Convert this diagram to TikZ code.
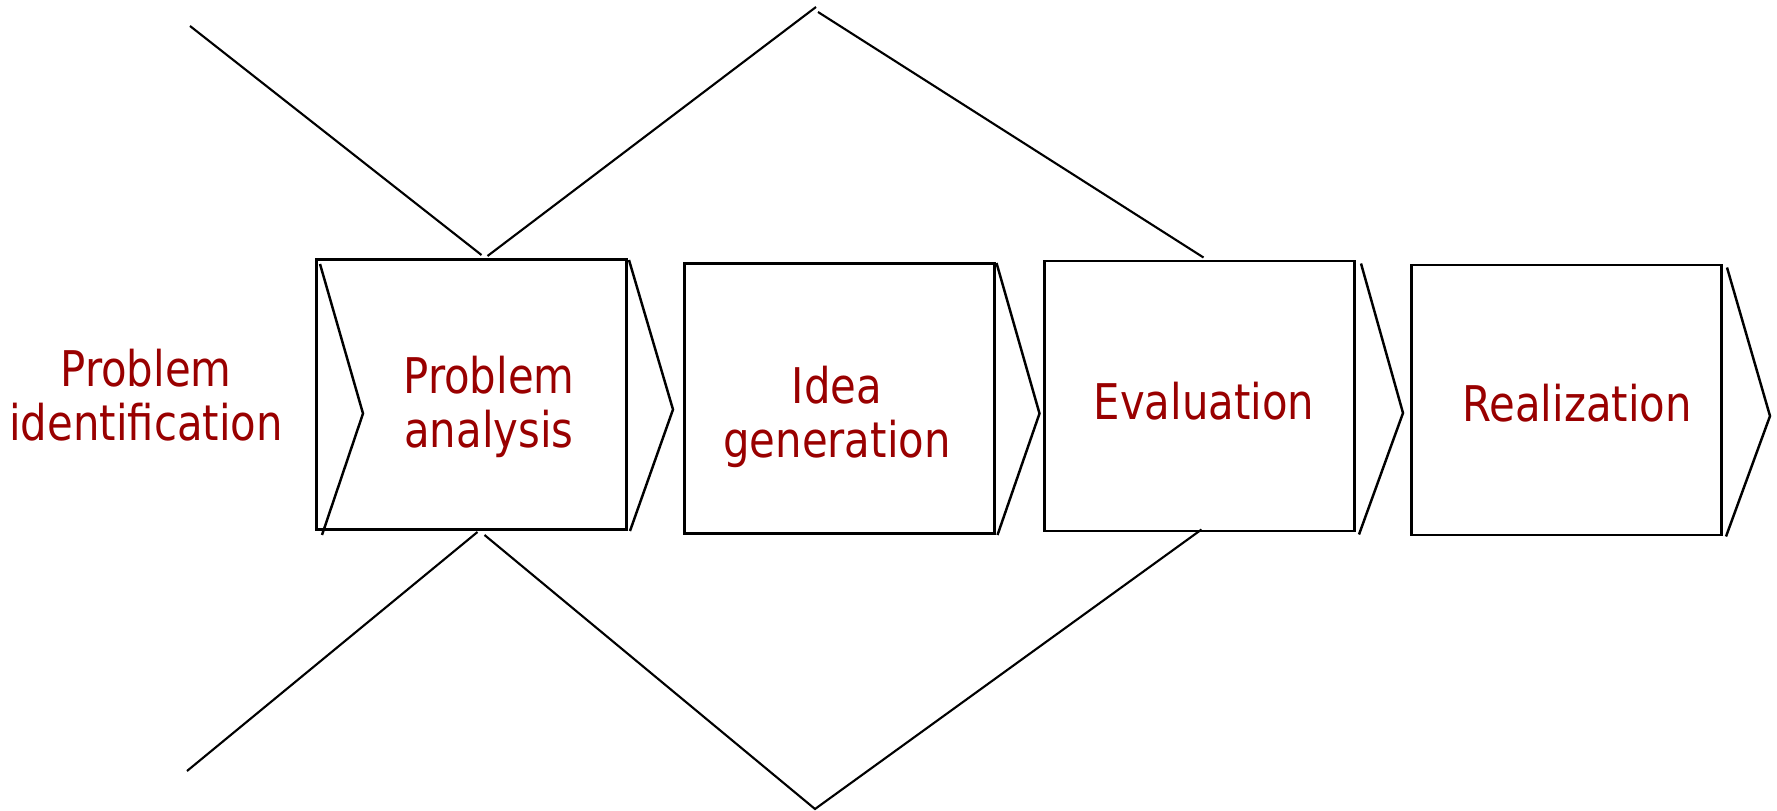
\documentclass[tikz,border=0pt]{standalone}
\usepackage{fontspec}
\setmainfont{DejaVu Sans}[FakeStretch=0.85]
\usetikzlibrary{calc}
\definecolor{stagered}{RGB}{153,0,0}
\tikzset{
  stage/.style={draw, line width=0.85pt, minimum width=31mm, minimum height=27mm, inner sep=0pt},
  stagetext/.style={text=stagered, align=center, inner sep=0pt, font=\fontsize{14}{15.3}\selectfont},
  chev/.style={line width=0.7pt},
  funnel/.style={line width=0.6pt}
}
\begin{document}
\begin{tikzpicture}[x=0.1mm,y=-0.1mm]
    \useasboundingbox (0,0) rectangle (1777,811);

    % boxes
    \node[stage] (b1) at (471.5,394.5) {};
    \node[stage] (b2) at (839,398.5) {};
    \node[stage] (b3) at (1199.5,396) {};
    \node[stage] (b4) at (1566.5,400) {};

    % texts
    \node[stagetext] (t0) at (146,395) {Problem\\identification};
    \node[stagetext] (t1) at (489,407) {Problem\\analysis};
    \node[stagetext] (t2) at (837,417) {Idea\\generation};
    \node[stagetext] (t3) at (1204,401) {Evaluation};
    \node[stagetext] (t4) at (1577,403) {Realization};

    % chevrons
    \draw[chev] ($(b1.north west)+(5,6)$) -- ($(b1.west)+(48,19)$) -- ($(b1.south west)+(7,4)$);
    \draw[chev] ($(b1.north east)+(1,2)$) -- ($(b1.east)+(45,15)$) -- ($(b1.south east)+(2,0)$);
    \draw[chev] ($(b2.north east)+(1,1)$) -- ($(b2.east)+(44,15)$) -- ($(b2.south east)+(2,0)$);
    \draw[chev] ($(b3.north east)+(5,4)$) -- ($(b3.east)+(47,17)$) -- ($(b3.south east)+(3,2)$);
    \draw[chev] ($(b4.north east)+(4,4)$) -- ($(b4.east)+(47,16)$) -- ($(b4.south east)+(3,0)$);

    % diverging and converging lines
    \coordinate (ntl) at (190,26);
    \coordinate (ntop) at (816,7);
    \coordinate (ntop2) at (818,12);
    \coordinate (nbl) at (187,771);
    \coordinate (nbot) at (815,809);

    \draw[funnel] (ntl) -- ($(b1.north)+(10,-3)$);
    \draw[funnel] ($(b1.north)+(16,-2)$) -- (ntop);
    \draw[funnel] (ntop2) -- ($(b3.north)+(4,-2)$);

    \draw[funnel] (nbl) -- ($(b1.south)+(6,1)$);
    \draw[funnel] ($(b1.south)+(13,4)$) -- (nbot) -- ($(b3.south)+(2,-3)$);
\end{tikzpicture}
\end{document}
